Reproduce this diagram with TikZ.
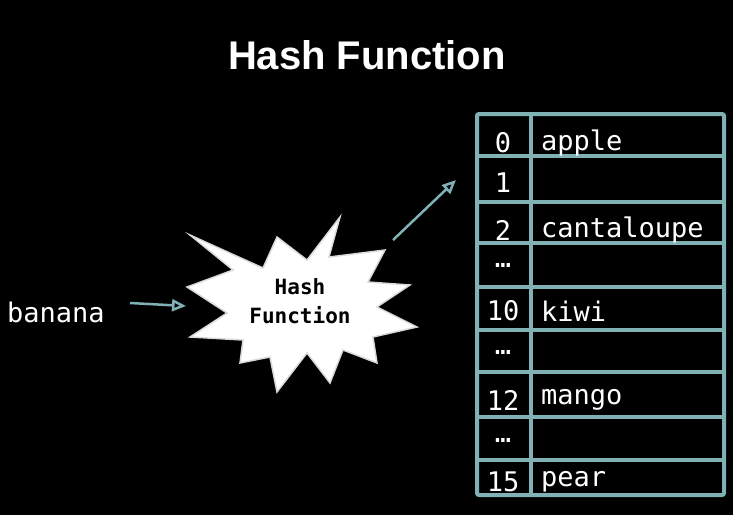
\documentclass[tikz,border=0pt]{standalone}
\usepackage{fontspec}
\setmainfont{Liberation Sans}
\newfontfamily\monof{DejaVu Sans Mono}
\usetikzlibrary{arrows.meta}
\definecolor{teal1}{HTML}{7FB1B5}
\tikzset{
 grid/.style={teal1,line width=4pt},
 txt/.style={text=white,font=\monof\fontsize{27}{30}\selectfont,inner sep=0pt},
 arr/.style={teal1,line width=2.5pt,-{Triangle[open,length=14pt,width=12pt]}},
}
\begin{document}
\begin{tikzpicture}[x=1pt,y=-1pt]
\fill[black] (0,0) rectangle (733,515);
\useasboundingbox (0,0) rectangle (733,515);
\node[text=white,font=\bfseries\fontsize{40}{44}\selectfont] (title) at (367,55) {Hash Function};
% star
\draw[white!70!gray,line width=1.5pt,fill=white] (190,235)--(263,268)--(277,237)--(307,260)--(340,217)--(329,257)--(385,250)--(368,282)--(410,285)--(377,307)--(417,327)--(373,337)--(377,363)--(343,350)--(330,383)--(307,353)--(277,392)--(270,357)--(240,363)--(243,340)--(190,337)--(227,313)--(187,287)--(233,270)--cycle;
\node[font=\monof\bfseries\fontsize{21}{29}\selectfont,align=center] (hf) at (300,301) {Hash\\Function};
\node[txt,anchor=west] (banana) at (7,312) {banana};
\coordinate (a1s) at (130,303); \coordinate (a1e) at (186,306);
\draw[arr] (a1s)--(a1e);
\coordinate (a2s) at (393,240); \coordinate (a2e) at (456,180);
\draw[arr] (a2s)--(a2e);
% table
\draw[grid,rounded corners=2pt] (477,114) rectangle (724,495);
\draw[grid] (531,114)--(531,495);
\foreach \y in {156,202,243,287,330,372,417,460} \draw[grid] (477,\y)--(724,\y);
\foreach \i/\y/\v in {0/143/apple,1/183/,2/230/cantaloupe,{\dots}/265/,10/311/kiwi,{\dots}/352/,12/400/mango,{\dots}/440/,15/482/pear}{
 \node[txt] at (503,\y) {\i};
 \node[txt,anchor=west] at (541,\y) {\v};
}
\end{tikzpicture}
\end{document}
